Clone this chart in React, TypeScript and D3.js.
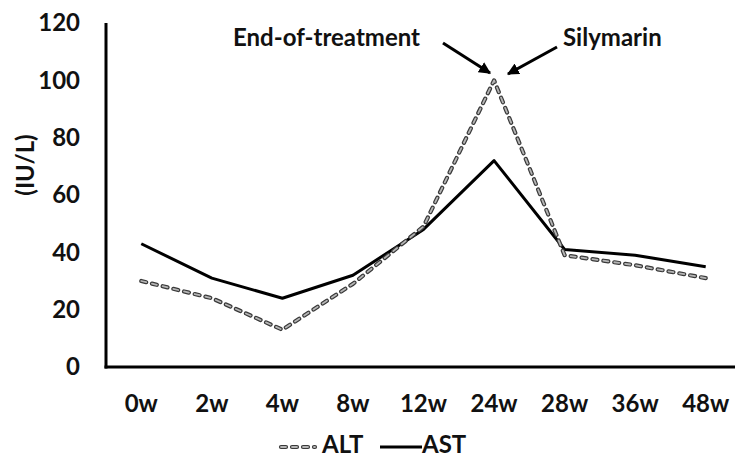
import React from "react";
import * as d3 from "d3";

const categories = ["0w", "2w", "4w", "8w", "12w", "24w", "28w", "36w", "48w"];
const altValues = [30, 24, 13, 29, 49, 100, 39, 35.5, 31];
const astValues = [43, 31, 24, 32, 48, 72, 41, 39, 35];
const yTicks = [0, 20, 40, 60, 80, 100, 120];

const W = 735;
const H = 458;
const FONT = "Lato, 'Open Sans', sans-serif";
const FS = 24;

export default function App() {
  const x = d3.scaleBand<string>().domain(categories).range([106, 741]);
  const y = d3.scaleLinear().domain([0, 120]).range([367, 23]);
  const cx = (c: string) => (x(c) as number) + x.bandwidth() / 2;
  const line = d3
    .line<number>()
    .x((_, i) => cx(categories[i]))
    .y((d) => y(d));
  const altPath = line(altValues) || "";
  const astPath = line(astValues) || "";

  return (
    <svg
      width={W}
      height={H}
      style={{ position: "absolute", left: 0, top: 0, background: "#fff" }}
      fontFamily={FONT}
      fontWeight="bold"
    >
      <defs>
        <marker id="ah" viewBox="0 0 10 10" refX="9" refY="5" markerWidth="4" markerHeight="4" orient="auto">
          <path d="M0,0 L10,5 L0,10 z" fill="#000" />
        </marker>
      </defs>
      <rect width={W} height={H} fill="#fff" />
      {yTicks.map((t) => (
        <text key={t} x={80} y={y(t)} dy="0.35em" textAnchor="end" fontSize={FS} fill="#111">
          {t}
        </text>
      ))}
      <text
        transform={`translate(26,165) rotate(-90)`}
        textAnchor="middle"
        dy="0.35em"
        fontSize={FS}
        fill="#111"
      >
        (IU/L)
      </text>
      <line x1={106} y1={23} x2={106} y2={368.5} stroke="#000" strokeWidth={3} />
      <line x1={104.5} y1={367} x2={W} y2={367} stroke="#000" strokeWidth={3} />
      {categories.map((c) => (
        <text key={c} x={cx(c)} y={412} textAnchor="middle" fontSize={FS} fill="#111">
          {c}
        </text>
      ))}
      <path d={astPath} fill="none" stroke="#000" strokeWidth={3} strokeLinejoin="round" />
      <path d={altPath} fill="none" stroke="#3a3a3a" strokeWidth={4.2} strokeDasharray="5,6" strokeLinecap="round" strokeLinejoin="round" />
      <path d={altPath} fill="none" stroke="#b5b5b5" strokeWidth={1.8} strokeDasharray="5,6" strokeLinecap="round" strokeLinejoin="round" />
      <text x={233} y={46} fontSize={FS} fill="#111">End-of-treatment</text>
      <text x={563} y={46} fontSize={FS} fill="#111">Silymarin</text>
      <line x1={443} y1={43} x2={490} y2={73} stroke="#000" strokeWidth={3} markerEnd="url(#ah)" />
      <line x1={557} y1={47} x2={508} y2={74} stroke="#000" strokeWidth={3} markerEnd="url(#ah)" />
      <line x1={281} y1={447} x2={315} y2={447} stroke="#3a3a3a" strokeWidth={4.2} strokeDasharray="5,6" strokeLinecap="round" />
      <line x1={281} y1={447} x2={315} y2={447} stroke="#b5b5b5" strokeWidth={1.8} strokeDasharray="5,6" strokeLinecap="round" />
      <text x={322} y={453} fontSize={FS} fill="#111">ALT</text>
      <line x1={380} y1={447} x2={422} y2={447} stroke="#000" strokeWidth={3} />
      <text x={422} y={453} fontSize={FS} fill="#111">AST</text>
    </svg>
  );
}
